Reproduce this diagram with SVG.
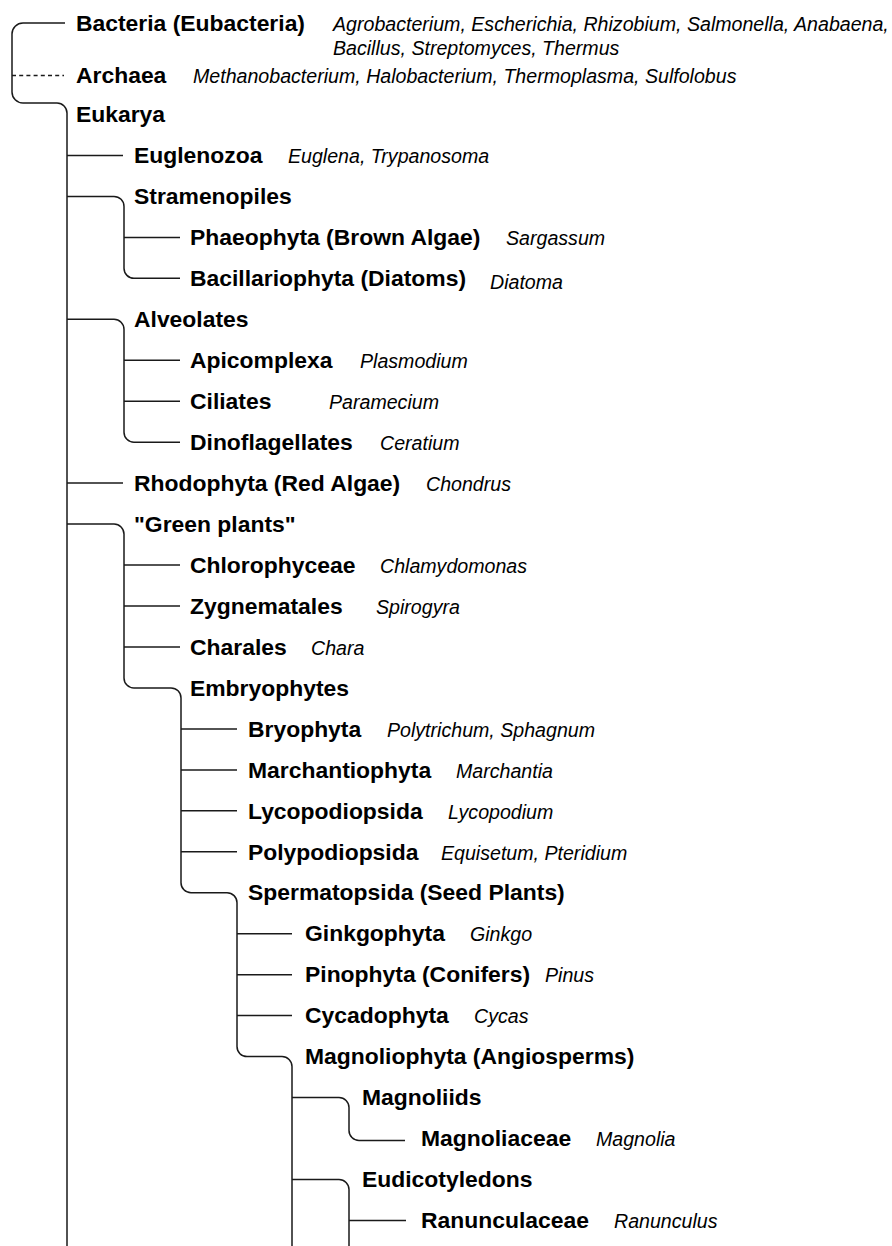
<svg xmlns="http://www.w3.org/2000/svg" width="892" height="1246" viewBox="0 0 892 1246">
<style>
.b{font-family:"Liberation Sans",Arial,Helvetica,sans-serif;font-weight:bold;font-size:22.9px;fill:#000}
.i{font-family:"Liberation Sans",Arial,Helvetica,sans-serif;font-style:italic;font-size:19.6px;fill:#000}
.c{fill:none;stroke:#1a1a1a;stroke-width:1.5}
.d{fill:none;stroke:#1a1a1a;stroke-width:1.4;stroke-dasharray:4 3.2}
</style>
<rect width="892" height="1246" fill="#fff"/>
<g id="connectors">
<path class="c" d="M65 23H23A11 11 0 0 0 12 34V92A11 11 0 0 0 23 103H57A10 10 0 0 1 67 113V1246"/>
<path class="d" d="M12 75.5H64"/>
<path class="c" d="M67 155.5H123"/>
<path class="c" d="M67 196.4H114A10 10 0 0 1 124 206.4V268.3A10 10 0 0 0 134 278.3H180"/>
<path class="c" d="M124 237.4H180"/>
<path class="c" d="M67 319.3H114A10 10 0 0 1 124 329.3V432.2A10 10 0 0 0 134 442.2H180"/>
<path class="c" d="M124 360.3H180"/>
<path class="c" d="M124 401.2H180"/>
<path class="c" d="M67 483.1H123"/>
<path class="c" d="M67 524.1H114A10 10 0 0 1 124 534.1V677.9A10 10 0 0 0 134 687.9H171A10 10 0 0 1 181 697.9V882.7A10 10 0 0 0 191 892.7H227A10 10 0 0 1 237 902.7V1046.6A10 10 0 0 0 247 1056.6H282A10 10 0 0 1 292 1066.6V1246"/>
<path class="c" d="M124 565.1H180"/>
<path class="c" d="M124 606H180"/>
<path class="c" d="M124 647H180"/>
<path class="c" d="M181 728.9H237"/>
<path class="c" d="M181 769.9H237"/>
<path class="c" d="M181 810.8H237"/>
<path class="c" d="M181 851.8H237"/>
<path class="c" d="M237 933.7H292"/>
<path class="c" d="M237 974.7H292"/>
<path class="c" d="M237 1015.6H292"/>
<path class="c" d="M292 1097.5H339A10 10 0 0 1 349 1107.5V1130.5A10 10 0 0 0 359 1140.5H405"/>
<path class="c" d="M292 1179.5H339A10 10 0 0 1 349 1189.5V1246"/>
<path class="c" d="M349 1220.4H406"/>
</g>
<g id="bacteria"><text class="b" x="76" y="30.7">Bacteria (Eubacteria)</text><text class="i" x="333" y="30.7">Agrobacterium, Escherichia, Rhizobium, Salmonella, Anabaena,</text><text class="i" x="333" y="54.5">Bacillus, Streptomyces, Thermus</text></g>
<g id="archaea"><text class="b" x="76" y="83">Archaea</text><text class="i" x="193" y="83">Methanobacterium, Halobacterium, Thermoplasma, Sulfolobus</text></g>
<g id="eukarya"><text class="b" x="76" y="122.2">Eukarya</text></g>
<g id="euglenozoa"><text class="b" x="134" y="163.2">Euglenozoa</text><text class="i" x="288" y="163.2">Euglena, Trypanosoma</text></g>
<g id="stramenopiles"><text class="b" x="134" y="204.1">Stramenopiles</text></g>
<g id="phaeophyta"><text class="b" x="190" y="245.1">Phaeophyta (Brown Algae)</text><text class="i" x="506" y="245.1">Sargassum</text></g>
<g id="bacillariophyta"><text class="b" x="190" y="286">Bacillariophyta (Diatoms)</text><text class="i" x="490" y="289">Diatoma</text></g>
<g id="alveolates"><text class="b" x="134" y="327">Alveolates</text></g>
<g id="apicomplexa"><text class="b" x="190" y="368">Apicomplexa</text><text class="i" x="360" y="368">Plasmodium</text></g>
<g id="ciliates"><text class="b" x="190" y="408.9">Ciliates</text><text class="i" x="329" y="408.9">Paramecium</text></g>
<g id="dinoflagellates"><text class="b" x="190" y="449.9">Dinoflagellates</text><text class="i" x="380" y="449.9">Ceratium</text></g>
<g id="rhodophyta"><text class="b" x="134" y="490.8">Rhodophyta (Red Algae)</text><text class="i" x="426" y="490.8">Chondrus</text></g>
<g id="green-plants"><text class="b" x="134" y="531.8">"Green plants"</text></g>
<g id="chlorophyceae"><text class="b" x="190" y="572.8">Chlorophyceae</text><text class="i" x="380" y="572.8">Chlamydomonas</text></g>
<g id="zygnematales"><text class="b" x="190" y="613.7">Zygnematales</text><text class="i" x="376" y="613.7">Spirogyra</text></g>
<g id="charales"><text class="b" x="190" y="654.7">Charales</text><text class="i" x="311" y="654.7">Chara</text></g>
<g id="embryophytes"><text class="b" x="190" y="695.6">Embryophytes</text></g>
<g id="bryophyta"><text class="b" x="248" y="736.6">Bryophyta</text><text class="i" x="387" y="736.6">Polytrichum, Sphagnum</text></g>
<g id="marchantiophyta"><text class="b" x="248" y="777.6">Marchantiophyta</text><text class="i" x="456" y="777.6">Marchantia</text></g>
<g id="lycopodiopsida"><text class="b" x="248" y="818.5">Lycopodiopsida</text><text class="i" x="448" y="818.5">Lycopodium</text></g>
<g id="polypodiopsida"><text class="b" x="248" y="859.5">Polypodiopsida</text><text class="i" x="441" y="859.5">Equisetum, Pteridium</text></g>
<g id="spermatopsida"><text class="b" x="248" y="900.4">Spermatopsida (Seed Plants)</text></g>
<g id="ginkgophyta"><text class="b" x="305" y="941.4">Ginkgophyta</text><text class="i" x="470" y="941.4">Ginkgo</text></g>
<g id="pinophyta"><text class="b" x="305" y="982.4">Pinophyta (Conifers)</text><text class="i" x="545" y="982.4">Pinus</text></g>
<g id="cycadophyta"><text class="b" x="305" y="1023.3">Cycadophyta</text><text class="i" x="474" y="1023.3">Cycas</text></g>
<g id="magnoliophyta"><text class="b" x="305" y="1064.3">Magnoliophyta (Angiosperms)</text></g>
<g id="magnoliids"><text class="b" x="362" y="1105.2">Magnoliids</text></g>
<g id="magnoliaceae"><text class="b" x="421" y="1146">Magnoliaceae</text><text class="i" x="596" y="1146">Magnolia</text></g>
<g id="eudicotyledons"><text class="b" x="362" y="1187.2">Eudicotyledons</text></g>
<g id="ranunculaceae"><text class="b" x="421" y="1228">Ranunculaceae</text><text class="i" x="614" y="1228">Ranunculus</text></g>
</svg>
